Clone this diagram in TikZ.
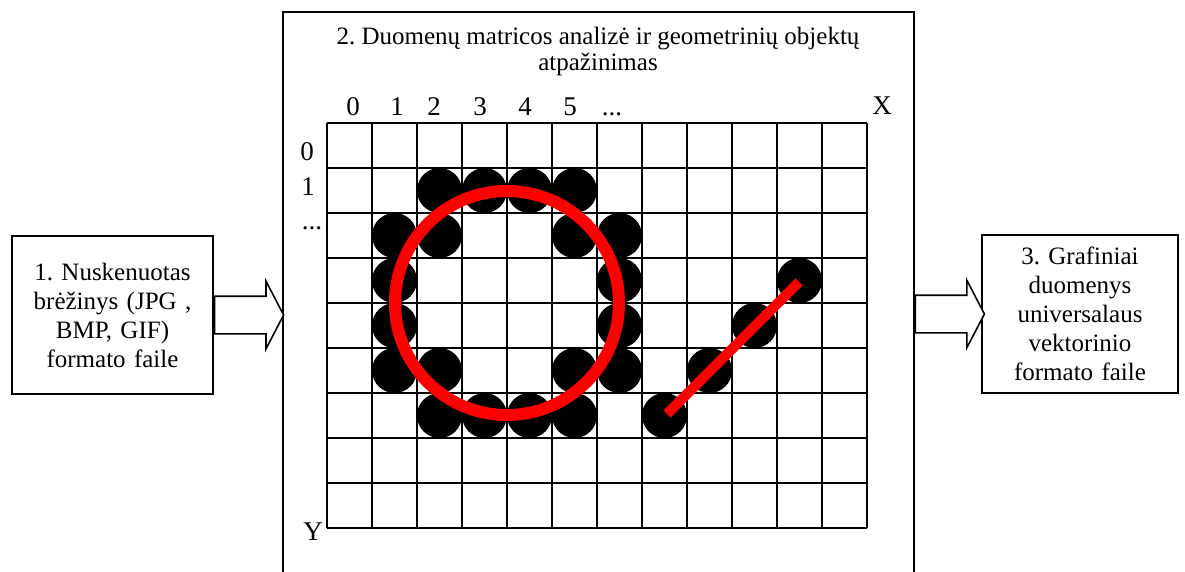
\documentclass[tikz,border=0pt]{standalone}
\usepackage{fontspec}
\setmainfont{Liberation Serif}
\usetikzlibrary{shapes.arrows,calc}
\begin{document}
\frenchspacing
\begin{tikzpicture}[x=1pt,y=-1pt,
  box/.style={draw,line width=1.6pt,align=center,inner sep=2pt,font=\fontsize{25}{29}\selectfont},
  blockarrow/.style={draw,line width=1.6pt,single arrow,single arrow head extend=15pt,single arrow head indent=0pt,single arrow tip angle=125,minimum width=0pt,minimum height=69pt,inner xsep=0pt,inner ysep=18pt,anchor=west,fill=white},
  gridline/.style={line width=1.8pt},
  dot/.style={fill=black},
  lbl/.style={font=\fontsize{27}{29}\selectfont,inner sep=0pt,anchor=base},
  fitline/.style={red,line width=12pt},
]
\useasboundingbox (0,0) rectangle (1185,571);
% middle box (open at the bottom)
\node[draw,line width=1.6pt,minimum width=631pt,minimum height=640pt,anchor=north west,inner sep=0pt] (mid) at (282,11) {};
\node[font=\fontsize{25}{26}\selectfont,align=center,anchor=base,inner sep=0pt] (title) at (598,70) {2. Duomenų matricos analizė ir geometrinių objektų\\atpažinimas};
% side boxes
\node[box,minimum width=201pt,minimum height=158pt,text width=196pt] (lbox) at (112.5,315) {1. Nuskenuotas\\brėžinys (JPG ,\\BMP, GIF)\\formato faile};
\node[box,minimum width=196pt,minimum height=158pt,text width=190pt] (rbox) at (1080,314) {3. Grafiniai\\duomenys\\universalaus\\vektorinio\\formato faile};
% block arrows
\node[blockarrow] (a1) at (lbox.east) {};
\node[blockarrow] (a2) at (mid.east |- rbox.west) {};
% black dots
\foreach \c/\r in {2/1,3/1,4/1,5/1,1/2,2/2,5/2,6/2,1/3,6/3,1/4,6/4,1/5,2/5,5/5,6/5,2/6,3/6,4/6,5/6,7/6,8/5,9/4,10/3}
  \fill[dot] ({349.5+45*\c},{145.5+45*\r}) circle (22.5);
% grid
\foreach \i in {0,...,12}
  \draw[gridline] ({327+45*\i},123) -- ({327+45*\i},528);
\foreach \j in {0,...,9}
  \draw[gridline] (327,{123+45*\j}) -- (867,{123+45*\j});
% red shapes
\draw[fitline] (507,303) circle (112);
\draw[red,line width=10pt] (667,414) -- (799,282);
% labels
\node[lbl] (cx0) at (353,115) {0};
\node[lbl] (cx1) at (397,115) {1};
\node[lbl] (cx2) at (434,115) {2};
\node[lbl] (cx3) at (480,115) {3};
\node[lbl] (cx4) at (525,115) {4};
\node[lbl] (cx5) at (570,115) {5};
\node[lbl] (cxd) at (612,115) {...};
\node[lbl] (cxX) at (882,114) {X};
\node[lbl] (ry0) at (307,160) {0};
\node[lbl] (ry1) at (308,195) {1};
\node[lbl] (ryd) at (312,229) {...};
\node[lbl] (ryY) at (313,540) {Y};
\end{tikzpicture}
\end{document}
